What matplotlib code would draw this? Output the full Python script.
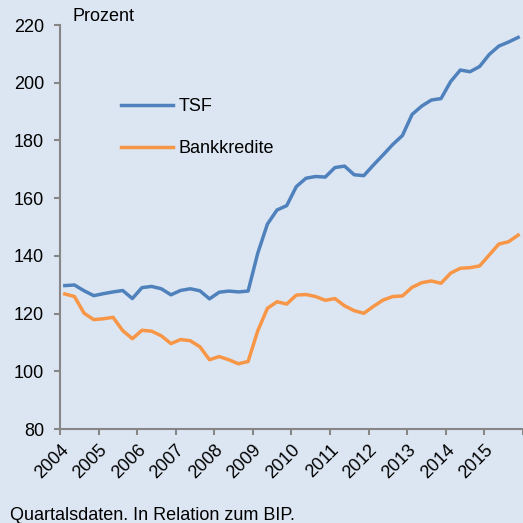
import numpy as np
import matplotlib
matplotlib.use("Agg")
import matplotlib.pyplot as plt
from matplotlib.transforms import ScaledTranslation

plt.rcParams['font.family'] = ['Liberation Sans', 'DejaVu Sans']

years = list(range(2004, 2016))
tsf = [129.7, 129.9, 127.9, 126.2, 126.9, 127.5, 128.0, 125.2,
       129.0, 129.4, 128.6, 126.5, 128.0, 128.6, 127.9, 125.1,
       127.4, 127.8, 127.5, 127.8, 140.9, 151.0, 155.9, 157.4,
       164.0, 166.9, 167.5, 167.3, 170.6, 171.1, 168.1, 167.8,
       171.5, 175.0, 178.6, 181.7, 189.0, 191.9, 194.0, 194.5,
       200.4, 204.4, 203.8, 205.6, 209.8, 212.7, 214.1, 215.7]
bankkredite = [126.8, 125.9, 120.1, 117.9, 118.2, 118.7, 114.1, 111.3,
               114.2, 113.9, 112.3, 109.6, 111.0, 110.6, 108.5, 104.0,
               105.1, 104.0, 102.6, 103.4, 114.0, 121.8, 124.1, 123.3,
               126.4, 126.6, 125.9, 124.6, 125.2, 122.7, 121.0, 120.1,
               122.5, 124.7, 125.9, 126.1, 129.1, 130.7, 131.3, 130.5,
               134.0, 135.7, 135.9, 136.5, 140.3, 144.1, 144.9, 147.2]

# quarterly points sit in the middle of each quarter
quarters = np.array([y + (q + 0.5) / 4 for y in years for q in range(4)])

bg = '#dce6f2'
grey = '#868686'
fs = 13

fig = plt.figure(figsize=(5.23, 5.23), dpi=100, facecolor=bg)
ax = fig.add_axes([60 / 523, 1 - 429 / 523, 463 / 523, 404 / 523])
ax.set_facecolor(bg)

ax.plot(quarters, tsf, color='#4f81bd', lw=2.5, label='TSF', solid_joinstyle='round')
ax.plot(quarters, bankkredite, color='#f79646', lw=2.5, label='Bankkredite', solid_joinstyle='round')

ax.set_xlim(2004, 2016)
ax.set_ylim(80, 220)
ax.set_yticks(range(80, 221, 20))
ax.set_xticks(range(2004, 2017))
ax.set_xticklabels([str(y) for y in years] + [''], rotation=45, ha='right',
                   va='top', rotation_mode='anchor')
offset = ScaledTranslation(8 / 100, -3 / 100, fig.dpi_scale_trans)
for lbl in ax.get_xticklabels():
    lbl.set_transform(lbl.get_transform() + offset)

for side in ['top', 'right']:
    ax.spines[side].set_visible(False)
for side in ['left', 'bottom']:
    ax.spines[side].set_color(grey)
    ax.spines[side].set_linewidth(1.5)
ax.tick_params(axis='both', colors=grey, length=4, width=1.5, labelsize=fs,
               labelcolor='black')
ax.tick_params(axis='y', pad=7.5)
ax.tick_params(axis='x', pad=5)

ax.text(13 / 463, 1.0, 'Prozent', transform=ax.transAxes, fontsize=fs,
        va='bottom', ha='left')

ax.legend(loc='upper left', bbox_to_anchor=(0.132, 0.819), frameon=False,
          fontsize=fs, handlelength=2.9, handletextpad=0.27,
          labelspacing=1.4, borderpad=0, borderaxespad=0)

fig.text(10 / 523, 1 - 520 / 523, 'Quartalsdaten. In Relation zum BIP.',
         fontsize=fs, va='baseline', ha='left')

fig.savefig('out.png', dpi=100, facecolor=bg)
